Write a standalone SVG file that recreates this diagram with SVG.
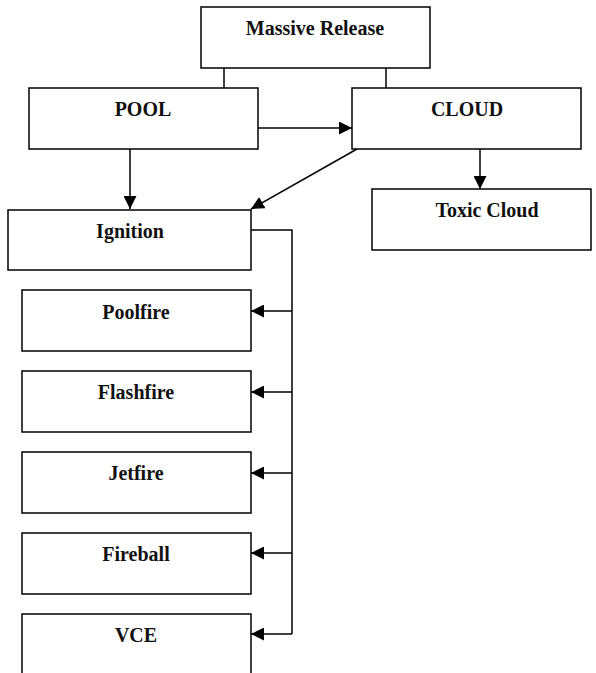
<svg xmlns="http://www.w3.org/2000/svg" width="596" height="673" viewBox="0 0 596 673">
  <style>
    .box { fill: #fff; stroke: #000; stroke-width: 1.5; }
    .lbl { font-family: "Liberation Serif", "Times New Roman", serif; font-weight: bold; font-size: 20px; fill: #111; text-anchor: middle; }
    .wire { fill: none; stroke: #000; stroke-width: 1.5; }
  </style>
  <defs>
    <marker id="arrow" markerUnits="userSpaceOnUse" markerWidth="13" markerHeight="13" refX="13" refY="6.5" orient="auto">
      <path d="M0,0 L13,6.5 L0,13 Z" fill="#000"/>
    </marker>
  </defs>
  <rect width="596" height="673" fill="#fff"/>

  <g id="connectors">
    <!-- release feeds both pool and cloud -->
    <path class="wire" d="M224,68 V88"/>
    <path class="wire" d="M386,68 V88"/>
    <path class="wire" d="M258,128 H352" marker-end="url(#arrow)"/>
    <path class="wire" d="M130,149 V209" marker-end="url(#arrow)"/>
    <path class="wire" d="M357,149 L251,209" marker-end="url(#arrow)"/>
    <path class="wire" d="M480,149 V189" marker-end="url(#arrow)"/>
    <!-- ignition bus to outcome boxes -->
    <path class="wire" d="M251,230 H292 V634"/>
    <path class="wire" d="M292,311 H251" marker-end="url(#arrow)"/>
    <path class="wire" d="M292,392 H251" marker-end="url(#arrow)"/>
    <path class="wire" d="M292,473 H251" marker-end="url(#arrow)"/>
    <path class="wire" d="M292,553 H251" marker-end="url(#arrow)"/>
    <path class="wire" d="M292,634 H251" marker-end="url(#arrow)"/>
  </g>

  <g id="massive-release">
    <rect class="box" x="201" y="7" width="229" height="61"/>
    <text class="lbl" x="315" y="35">Massive Release</text>
  </g>
  <g id="pool">
    <rect class="box" x="29" y="88" width="229" height="61"/>
    <text class="lbl" x="143" y="116">POOL</text>
  </g>
  <g id="cloud">
    <rect class="box" x="352" y="88" width="229" height="61"/>
    <text class="lbl" x="467" y="116">CLOUD</text>
  </g>
  <g id="toxic-cloud">
    <rect class="box" x="372" y="189" width="219" height="61"/>
    <text class="lbl" x="487" y="217">Toxic Cloud</text>
  </g>
  <g id="ignition">
    <rect class="box" x="8" y="210" width="243" height="60"/>
    <text class="lbl" x="130" y="238">Ignition</text>
  </g>
  <g id="poolfire">
    <rect class="box" x="22" y="290" width="229" height="61"/>
    <text class="lbl" x="136" y="319">Poolfire</text>
  </g>
  <g id="flashfire">
    <rect class="box" x="22" y="371" width="229" height="61"/>
    <text class="lbl" x="136" y="399">Flashfire</text>
  </g>
  <g id="jetfire">
    <rect class="box" x="22" y="452" width="229" height="61"/>
    <text class="lbl" x="136" y="480">Jetfire</text>
  </g>
  <g id="fireball">
    <rect class="box" x="22" y="533" width="229" height="61"/>
    <text class="lbl" x="136" y="561">Fireball</text>
  </g>
  <g id="vce">
    <rect class="box" x="22" y="614" width="229" height="70"/>
    <text class="lbl" x="136" y="642">VCE</text>
  </g>
</svg>
